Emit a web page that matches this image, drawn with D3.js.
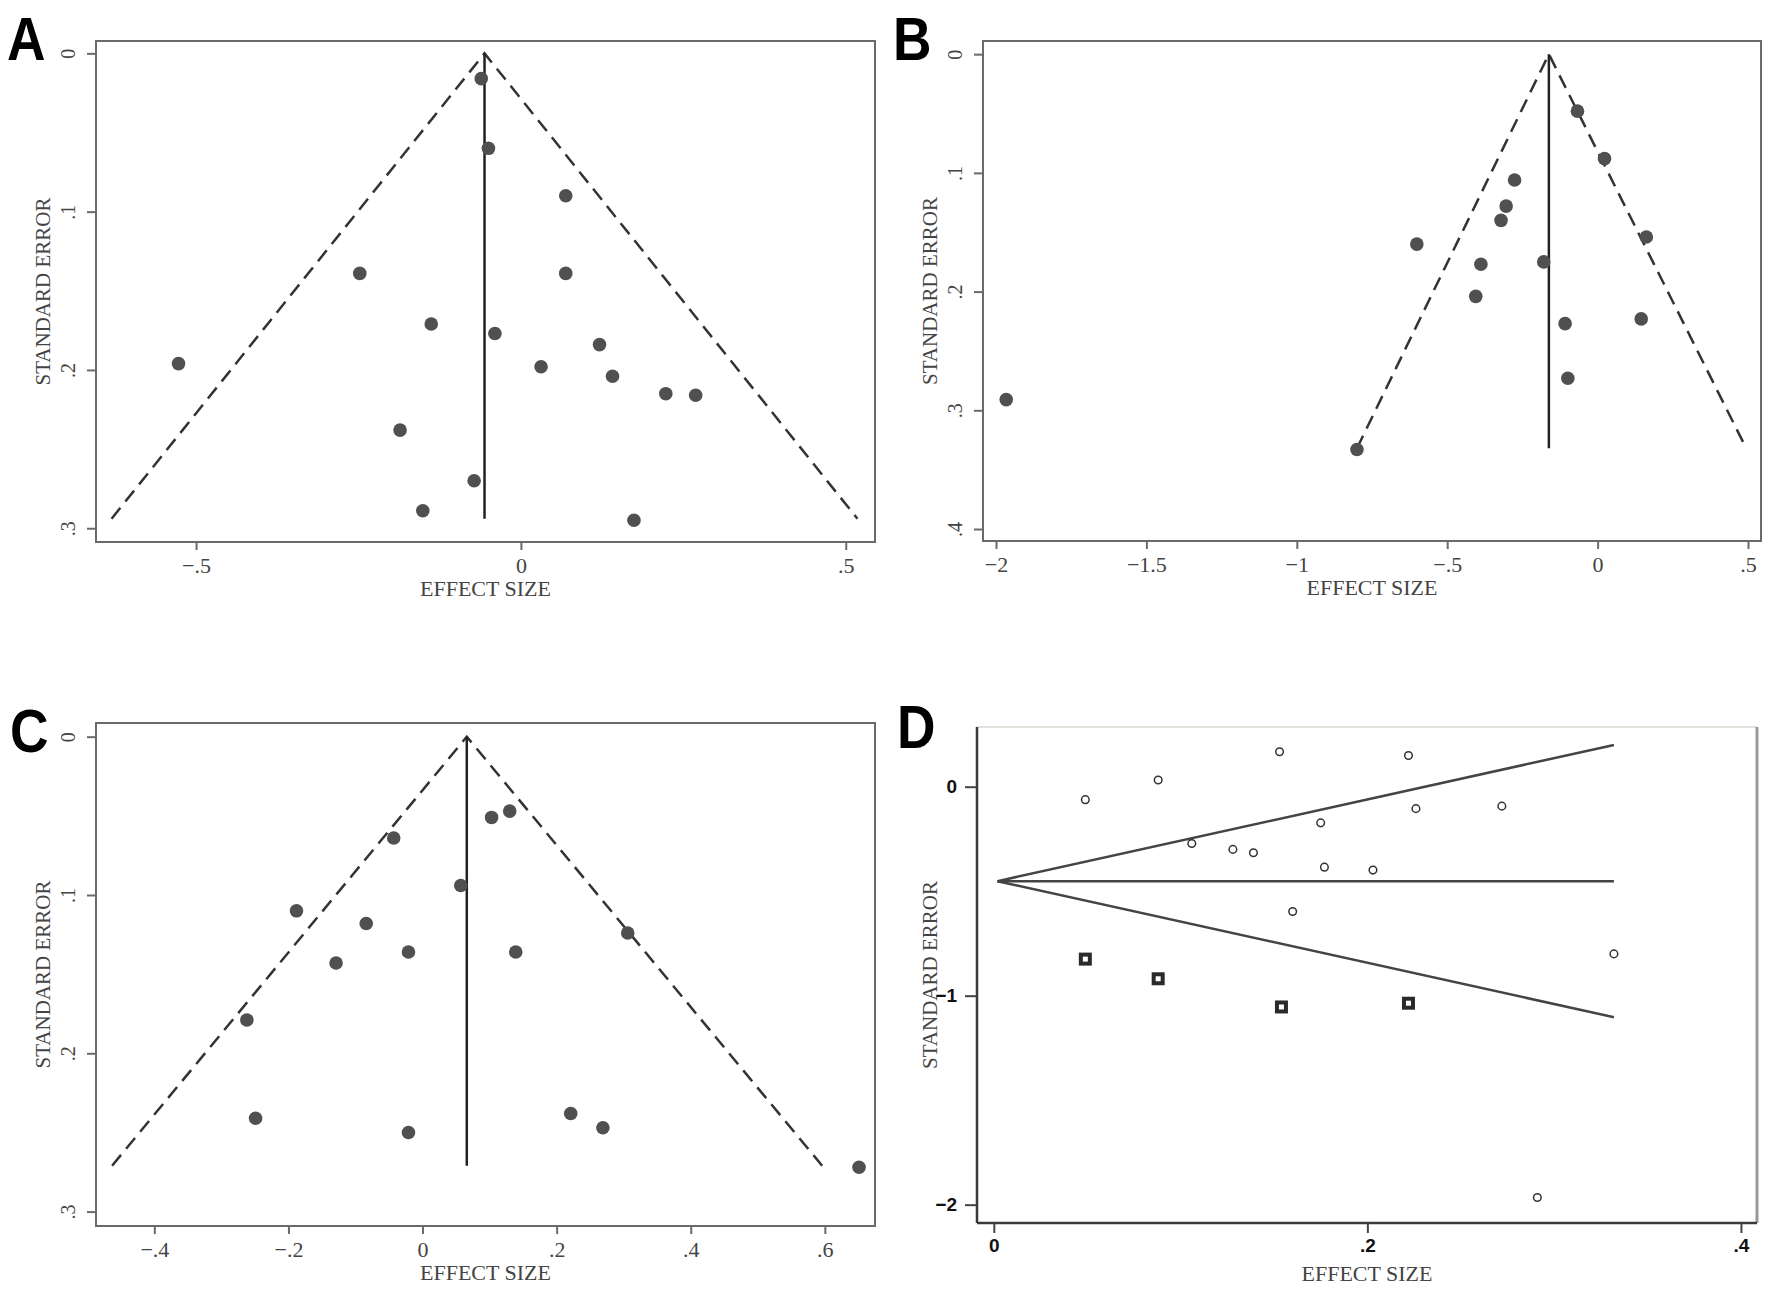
<!DOCTYPE html>
<html>
<head>
  <meta charset="utf-8">
  <title>Funnel plots A-D</title>
  <style>
    body { margin: 0; background: #fff; }
    .serif { font-family: "Liberation Serif", "Times New Roman", serif; fill: #444; }
    .letter { font-family: "Liberation Sans", Arial, sans-serif; font-weight: bold; fill: #000; }
  </style>
</head>
<body>
  <div id="chart"></div>
  <script src="https://d3js.org/d3.v7.min.js"></script>
  <script>

    // Panel A: effect size / standard error of each study
    const aEffect = [-0.061, -0.050, 0.069, -0.248, 0.069, -0.138, -0.040, 0.121, -0.527,
                     0.031, 0.141, 0.223, 0.269, -0.186, -0.072, -0.151, 0.174];
    const aSE = [0.016, 0.060, 0.090, 0.139, 0.139, 0.171, 0.177, 0.184, 0.196,
                 0.198, 0.204, 0.215, 0.216, 0.238, 0.270, 0.289, 0.295];
    // pooled estimate, max SE, pseudo 95% limits at max SE
    const aFunnel = [-0.056, 0.294, -0.630, 0.518];
    const aXTicks = [-0.5, 0, 0.5];
    const aYTicks = [0, 0.1, 0.2, 0.3];

    // Panel B
    const bEffect = [-0.067, 0.023, -0.276, -0.304, -0.321, 0.162, -0.601, -0.388,
                     -0.179, -0.405, -0.108, 0.145, -0.099, -1.966, -0.800];
    const bSE = [0.048, 0.088, 0.106, 0.128, 0.140, 0.154, 0.160, 0.177,
                 0.175, 0.204, 0.227, 0.223, 0.273, 0.291, 0.333];
    const bFunnel = [-0.162, 0.332, -0.800, 0.494];
    const bXTicks = [-2, -1.5, -1, -0.5, 0, 0.5];
    const bYTicks = [0, 0.1, 0.2, 0.3, 0.4];

    // Panel C
    const cEffect = [0.130, 0.103, -0.043, 0.057, -0.188, -0.084, 0.306, -0.021,
                     0.139, -0.129, -0.262, 0.221, -0.249, 0.269, -0.021, 0.651];
    const cSE = [0.047, 0.051, 0.064, 0.094, 0.110, 0.118, 0.124, 0.136,
                 0.136, 0.143, 0.179, 0.238, 0.241, 0.247, 0.250, 0.272];
    const cFunnel = [0.066, 0.271, -0.463, 0.596];
    const cXTicks = [-0.4, -0.2, 0, 0.2, 0.4, 0.6];
    const cYTicks = [0, 0.1, 0.2, 0.3];

    // Panel D: observed studies (circles) and filled studies (squares)
    const dCircleX = [0.049, 0.088, 0.153, 0.222, 0.106, 0.128, 0.139, 0.175,
                      0.226, 0.272, 0.177, 0.203, 0.160, 0.332, 0.291];
    const dCircleY = [-0.062, 0.032, 0.167, 0.149, -0.272, -0.300, -0.316, -0.173,
                      -0.105, -0.093, -0.385, -0.399, -0.597, -0.800, -1.966];
    const dSquareX = [0.049, 0.088, 0.154, 0.222];
    const dSquareY = [-0.825, -0.919, -1.054, -1.036];
    // apex x, apex y, end x, upper end y, lower end y
    const dLines = [0.002, -0.452, 0.332, 0.200, -1.103];
    const dXTicks = [0, 0.2, 0.4];
    const dYTicks = [0, -1, -2];

    const svg = d3.select('#chart')
      .append('svg')
        .attr('width', 1784)
        .attr('height', 1301);

    function stataFormat(d) {
      if (d === 0) return '0';
      let s = String(Math.abs(d)).replace(/^0\./, '.');
      return (d < 0 ? '\u2212' : '') + s;
    }

    function panelLetter(letter, lx, ly) {
      svg.append('text')
        .attr('class', 'letter').attr('font-size', 62)
        .attr('transform', 'translate(' + lx + ',' + ly + ') scale(0.86,1)')
        .text(letter);
    }

    function funnelPanel(p) {
      let x = d3.scaleLinear().domain(p.xDomain).range([p.left, p.right]);
      let y = d3.scaleLinear().domain(p.yDomain).range([p.top, p.bottom]);
      let g = svg.append('g');

      // frame
      g.append('rect')
        .attr('x', p.left).attr('y', p.top)
        .attr('width', p.right - p.left).attr('height', p.bottom - p.top)
        .attr('fill', 'none').attr('stroke', '#6a6a6a').attr('stroke-width', 2);

      // x axis
      let xAxis = d3.axisBottom(x).tickValues(p.xTicks).tickSize(8).tickFormat(stataFormat);
      let gx = g.append('g').attr('transform', 'translate(0,' + p.bottom + ')').call(xAxis);
      gx.select('.domain').remove();
      gx.selectAll('line').attr('stroke', '#6a6a6a').attr('stroke-width', 2);
      gx.selectAll('text')
        .attr('class', 'serif').attr('font-size', 22).attr('y', 31).attr('dy', 0);

      // y axis, rotated labels
      let yAxis = d3.axisLeft(y).tickValues(p.yTicks).tickSize(9).tickFormat(stataFormat);
      let gy = g.append('g').attr('transform', 'translate(' + p.left + ',0)').call(yAxis);
      gy.select('.domain').remove();
      gy.selectAll('line').attr('stroke', '#6a6a6a').attr('stroke-width', 2);
      gy.selectAll('text')
        .attr('class', 'serif').attr('font-size', 20)
        .attr('x', 0).attr('dy', 0)
        .attr('text-anchor', 'middle')
        .attr('transform', 'translate(-21,0) rotate(-90)');

      // funnel
      let f = p.funnel;
      g.append('path')
        .attr('d', d3.line()([[x(f[2]), y(f[1])], [x(f[0]), y(0)], [x(f[3]), y(f[1])]]))
        .attr('fill', 'none').attr('stroke', '#333')
        .attr('stroke-width', 2.5).attr('stroke-dasharray', '14,8');
      g.append('line')
        .attr('x1', x(f[0])).attr('x2', x(f[0]))
        .attr('y1', y(0)).attr('y2', y(f[1]))
        .attr('stroke', '#222').attr('stroke-width', 2.5);

      // studies
      g.selectAll('circle.study')
        .data(p.effect)
        .enter()
        .append('circle')
          .attr('class', 'study')
          .attr('cx', d => x(d))
          .attr('cy', (d, i) => y(p.se[i]))
          .attr('r', 6.8)
          .attr('fill', '#505050');

      // titles
      g.append('text')
        .attr('class', 'serif').attr('font-size', 22)
        .attr('x', (p.left + p.right) / 2).attr('y', p.bottom + 54)
        .attr('text-anchor', 'middle')
        .text('EFFECT SIZE');
      g.append('text')
        .attr('class', 'serif').attr('font-size', 21)
        .attr('text-anchor', 'middle')
        .attr('transform', 'translate(' + (p.left - 46) + ',' + ((p.top + p.bottom) / 2) + ') rotate(-90)')
        .text('STANDARD ERROR');

      panelLetter(p.letter, p.lx, p.ly);
    }

    funnelPanel({
      letter: 'A', lx: 7, ly: 60,
      left: 96, right: 875, top: 41, bottom: 542,
      xDomain: [-0.654, 0.545], yDomain: [-0.0078, 0.3087],
      xTicks: aXTicks, yTicks: aYTicks,
      effect: aEffect, se: aSE, funnel: aFunnel
    });

    funnelPanel({
      letter: 'B', lx: 893, ly: 60,
      left: 983, right: 1761, top: 41, bottom: 541,
      xDomain: [-2.0432, 0.5432], yDomain: [-0.0111, 0.4101],
      xTicks: bXTicks, yTicks: bYTicks,
      effect: bEffect, se: bSE, funnel: bFunnel
    });

    funnelPanel({
      letter: 'C', lx: 10, ly: 752,
      left: 96, right: 875, top: 723, bottom: 1226,
      xDomain: [-0.487, 0.6748], yDomain: [-0.00865, 0.3091],
      xTicks: cXTicks, yTicks: cYTicks,
      effect: cEffect, se: cSE, funnel: cFunnel
    });

    // Panel D
    (function() {
      let left = 977, right = 1757, top = 727, bottom = 1223;
      let x = d3.scaleLinear().domain([-0.009, 0.4086]).range([left, right]);
      let y = d3.scaleLinear().domain([0.2857, -2.0877]).range([top, bottom]);
      let g = svg.append('g');

      g.append('line').attr('x1', left).attr('x2', right).attr('y1', top).attr('y2', top)
        .attr('stroke', '#e2e2dc').attr('stroke-width', 2);
      g.append('line').attr('x1', right).attr('x2', right).attr('y1', top).attr('y2', bottom)
        .attr('stroke', '#999').attr('stroke-width', 3);
      g.append('line').attr('x1', left).attr('x2', right).attr('y1', bottom).attr('y2', bottom)
        .attr('stroke', '#3a3a3a').attr('stroke-width', 2.5);
      g.append('line').attr('x1', left).attr('x2', left).attr('y1', top).attr('y2', bottom)
        .attr('stroke', '#3a3a3a').attr('stroke-width', 2.5);

      let xAxis = d3.axisBottom(x).tickValues(dXTicks).tickSize(10).tickFormat(stataFormat);
      let gx = g.append('g').attr('transform', 'translate(0,' + bottom + ')').call(xAxis);
      gx.select('.domain').remove();
      gx.selectAll('line').attr('stroke', '#444').attr('stroke-width', 2);
      gx.selectAll('text')
        .attr('font-family', '"Liberation Sans", Arial, sans-serif')
        .attr('font-weight', 'bold').attr('font-size', 19).attr('fill', '#111')
        .attr('y', 29).attr('dy', 0);

      let yAxis = d3.axisLeft(y).tickValues(dYTicks).tickSize(12).tickFormat(stataFormat);
      let gy = g.append('g').attr('transform', 'translate(' + left + ',0)').call(yAxis);
      gy.select('.domain').remove();
      gy.selectAll('line').attr('stroke', '#444').attr('stroke-width', 2);
      gy.selectAll('text')
        .attr('font-family', '"Liberation Sans", Arial, sans-serif')
        .attr('font-weight', 'bold').attr('font-size', 19).attr('fill', '#111')
        .attr('x', -20);

      let apex = [x(dLines[0]), y(dLines[1])];
      [dLines[3], dLines[1], dLines[4]].forEach(function(v) {
        g.append('line')
          .attr('x1', apex[0]).attr('y1', apex[1])
          .attr('x2', x(dLines[2])).attr('y2', y(v))
          .attr('stroke', '#444').attr('stroke-width', 2.5);
      });

      g.selectAll('circle.obs')
        .data(dCircleX)
        .enter()
        .append('circle')
          .attr('class', 'obs')
          .attr('cx', d => x(d))
          .attr('cy', (d, i) => y(dCircleY[i]))
          .attr('r', 3.8)
          .attr('fill', 'none')
          .attr('stroke', '#333')
          .attr('stroke-width', 1.5);

      g.selectAll('rect.filled')
        .data(dSquareX)
        .enter()
        .append('rect')
          .attr('class', 'filled')
          .attr('x', d => x(d) - 4.5)
          .attr('y', (d, i) => y(dSquareY[i]) - 4.5)
          .attr('width', 9)
          .attr('height', 9)
          .attr('fill', '#fff')
          .attr('stroke', '#2a2a2a')
          .attr('stroke-width', 4);

      g.append('text')
        .attr('class', 'serif').attr('font-size', 22)
        .attr('x', (left + right) / 2).attr('y', bottom + 58)
        .attr('text-anchor', 'middle')
        .text('EFFECT SIZE');
      g.append('text')
        .attr('class', 'serif').attr('font-size', 21)
        .attr('text-anchor', 'middle')
        .attr('transform', 'translate(' + (left - 40) + ',' + ((top + bottom) / 2) + ') rotate(-90)')
        .text('STANDARD ERROR');

      panelLetter('D', 897, 748);
    })();

  </script>
</body>
</html>
